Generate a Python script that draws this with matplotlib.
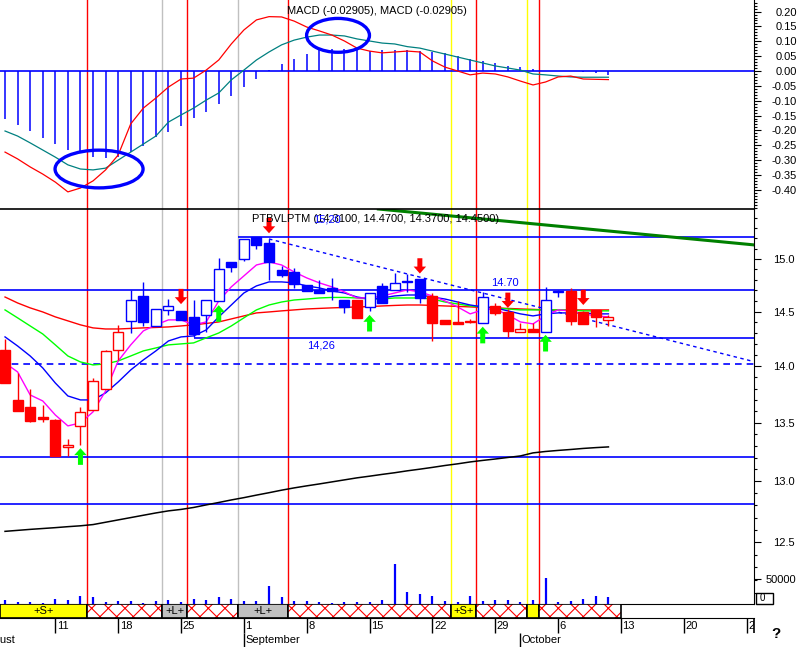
#!/usr/bin/env python3
"""Daily candle chart with MACD panel, moving averages and signal bands."""

import matplotlib
matplotlib.use("Agg")  # headless
import matplotlib.pyplot as plt
from matplotlib.patches import Rectangle, Ellipse
from matplotlib.ticker import FixedLocator, MultipleLocator, FormatStrFormatter, NullFormatter
import numpy as np

plt.rcParams["font.family"] = ["Liberation Sans", "DejaVu Sans"]
plt.rcParams["hatch.color"] = "red"
plt.rcParams["hatch.linewidth"] = 0.8

# One entry per trading day: index 0 = Tue 5 Aug, index 48 = Fri 10 Oct
opens = [14.15, 13.70, 13.64, 13.55, 13.52, 13.29, 13.47, 13.61, 13.80, 14.15,
         14.41, 14.65, 14.37, 14.516, 14.506, 14.448, 14.469, 14.603, 14.971, 15.00,
         15.21, 15.152, 14.894, 14.872, 14.751, 14.704, 14.72, 14.609, 14.609, 14.547,
         14.742, 14.70, 14.782, 14.808, 14.647, 14.42, 14.407, 14.40, 14.392, 14.55,
         14.50, 14.315, 14.339, 14.315, 14.688, 14.697, 14.50, 14.516, 14.42]
highs = [14.25, 13.94, 13.80, 13.65, 13.53, 13.36, 13.635, 13.89, 14.15, 14.38,
         14.70, 14.78, 14.52, 14.616, 14.506, 14.609, 14.609, 15.007, 14.971, 15.19,
         15.21, 15.19, 14.93, 14.911, 14.751, 14.80, 14.815, 14.609, 14.609, 14.673,
         14.767, 14.863, 14.856, 14.808, 14.673, 14.42, 14.60, 14.43, 14.688, 14.578,
         14.52, 14.392, 14.392, 14.729, 14.70, 14.72, 14.51, 14.516, 14.47]
lows = [13.85, 13.60, 13.51, 13.51, 13.21, 13.21, 13.31, 13.61, 13.80, 14.06,
        14.305, 14.37, 14.37, 14.469, 14.423, 14.263, 14.31, 14.603, 14.878, 14.98,
        15.10, 14.80, 14.83, 14.72, 14.697, 14.673, 14.61, 14.485, 14.438, 14.51,
        14.578, 14.70, 14.688, 14.578, 14.232, 14.383, 14.386, 14.39, 14.392, 14.469,
        14.268, 14.315, 14.31, 14.315, 14.64, 14.376, 14.386, 14.361, 14.37]
closes = [13.85, 13.605, 13.515, 13.53, 13.21, 13.31, 13.59, 13.87, 14.14, 14.31,
          14.61, 14.40, 14.52, 14.553, 14.423, 14.293, 14.609, 14.901, 14.926, 15.19,
          15.14, 14.974, 14.847, 14.758, 14.697, 14.673, 14.694, 14.547, 14.438, 14.673,
          14.578, 14.767, 14.785, 14.625, 14.398, 14.383, 14.386, 14.41, 14.641, 14.485,
          14.324, 14.339, 14.315, 14.609, 14.69, 14.416, 14.386, 14.448, 14.45]
candle_colors = ["r"] * 10 + ["b"] * 18 + ["r"] + ["b"] * 5 + ["r"] * 4 + ["b"] + \
                ["r"] * 4 + ["b"] * 2 + ["r"] * 4
volumes = [8000, 3400, 4600, 1400, 10000, 8000, 16000, 14600, 4600, 6600,
           6600, 2600, 6600, 8000, 4000, 10000, 8600, 14600, 10000, 6600,
           6600, 36600, 14600, 6000, 6000, 4000, 2000, 4000, 4000, 4000,
           8000, 80000, 24600, 20000, 16600, 6000, 4000, 16600, 6000, 8000,
           8000, 4000, 8000, 52600, 4000, 6000, 10000, 16000, 14000]

# Moving averages
ma_fast = [14.029, 13.948, 13.743, 13.690, 13.567, 13.472, 13.498, 13.594, 13.778, 14.047,
           14.193, 14.321, 14.377, 14.423, 14.423, 14.377, 14.404, 14.600, 14.733, 14.837,
           14.942, 14.971, 14.942, 14.875, 14.818, 14.771, 14.733, 14.685, 14.628, 14.628,
           14.647, 14.675, 14.704, 14.685, 14.647, 14.600, 14.544, 14.479, 14.516, 14.525,
           14.469, 14.404, 14.386, 14.460, 14.516, 14.507, 14.479, 14.460, 14.451]
ma_10 = [14.266, 14.183, 14.092, 13.984, 13.849, 13.734, 13.699, 13.699, 13.761, 13.858,
         13.966, 14.056, 14.138, 14.229, 14.266, 14.275, 14.330, 14.451, 14.562, 14.675,
         14.742, 14.780, 14.780, 14.771, 14.742, 14.723, 14.694, 14.675, 14.637, 14.618,
         14.628, 14.647, 14.656, 14.656, 14.637, 14.618, 14.590, 14.562, 14.544, 14.535,
         14.507, 14.479, 14.460, 14.479, 14.488, 14.488, 14.488, 14.479, 14.479]
ma_20 = [14.516, 14.442, 14.367, 14.293, 14.193, 14.092, 14.038, 14.011, 14.020, 14.047,
         14.092, 14.138, 14.165, 14.193, 14.202, 14.211, 14.257, 14.302, 14.367, 14.442,
         14.516, 14.562, 14.590, 14.609, 14.618, 14.628, 14.633, 14.633, 14.628, 14.618,
         14.618, 14.628, 14.628, 14.628, 14.618, 14.590, 14.572, 14.553, 14.544, 14.535,
         14.525, 14.516, 14.516, 14.516, 14.516, 14.516, 14.507, 14.507, 14.507]
ma_50 = [14.637, 14.581, 14.535, 14.497, 14.451, 14.414, 14.377, 14.349, 14.339, 14.339,
         14.344, 14.349, 14.353, 14.358, 14.367, 14.377, 14.390, 14.404, 14.432, 14.460,
         14.488, 14.497, 14.507, 14.516, 14.525, 14.530, 14.535, 14.539, 14.544, 14.547,
         14.553, 14.558, 14.562, 14.562, 14.558, 14.553, 14.549, 14.544, 14.539, 14.535,
         14.530, 14.525, 14.521, 14.516, 14.516, 14.516, 14.516, 14.516, 14.516]
ma_200 = [12.588, 12.596, 12.604, 12.611, 12.618, 12.626, 12.633, 12.643, 12.662, 12.681,
          12.700, 12.719, 12.738, 12.755, 12.767, 12.783, 12.804, 12.824, 12.845, 12.864,
          12.885, 12.905, 12.926, 12.945, 12.962, 12.978, 12.995, 13.012, 13.029, 13.043,
          13.058, 13.072, 13.088, 13.102, 13.117, 13.133, 13.147, 13.163, 13.176, 13.188,
          13.201, 13.214, 13.240, 13.252, 13.261, 13.269, 13.278, 13.285, 13.291]

# MACD panel
macd_line = [-0.273, -0.296, -0.323, -0.347, -0.374, -0.407, -0.394, -0.370, -0.333, -0.283,
             -0.178, -0.125, -0.091, -0.054, -0.027, -0.024, 0.003, 0.037, 0.091, 0.138,
             0.172, 0.183, 0.182, 0.168, 0.148, 0.135, 0.121, 0.101, 0.077, 0.067,
             0.061, 0.064, 0.067, 0.064, 0.034, 0.013, 0.000, -0.013, -0.007, -0.010,
             -0.020, -0.034, -0.047, -0.037, -0.020, -0.017, -0.027, -0.028, -0.029]
macd_signal = [-0.202, -0.219, -0.242, -0.266, -0.290, -0.316, -0.330, -0.333, -0.327, -0.300,
               -0.273, -0.246, -0.219, -0.172, -0.148, -0.125, -0.098, -0.074, -0.030, 0.003,
               0.037, 0.064, 0.088, 0.104, 0.114, 0.121, 0.121, 0.118, 0.108, 0.101,
               0.094, 0.091, 0.082, 0.077, 0.067, 0.057, 0.047, 0.037, 0.027, 0.017,
               0.010, 0.003, -0.010, -0.013, -0.017, -0.020, -0.021, -0.021, -0.021]
macd_hist = [-0.163, -0.182, -0.201, -0.225, -0.246, -0.266, -0.275, -0.291, -0.294, -0.289,
             -0.272, -0.251, -0.221, -0.204, -0.185, -0.159, -0.137, -0.112, -0.084, -0.055,
             -0.027, 0.002, 0.023, 0.039, 0.057, 0.071, 0.073, 0.073, 0.071, 0.068,
             0.071, 0.071, 0.071, 0.067, 0.065, 0.060, 0.050, 0.040, 0.034, 0.028,
             0.018, 0.014, 0.006, 0.001, 0.000, -0.001, -0.003, -0.008, -0.013]
macd_ticks = [-0.40, -0.35, -0.30, -0.25, -0.20, -0.15, -0.10, -0.05,
              0.00, 0.05, 0.10, 0.15, 0.20]

# Buy / sell arrows (day index, price at arrow tip)
sell_idx = [14, 21, 33, 40, 46]
sell_price = [14.57, 15.25, 14.86, 14.535, 14.562]
buy_idx = [6, 17, 29, 38, 43]
buy_price = [13.28, 14.56, 14.47, 14.36, 14.285]

# Drawn support / resistance lines
level_values = [15.21, 14.70, 14.26, 13.205, 12.81]
level_start = [18.5, -0.4, 15.0, -0.4, -0.4]
dashed_level = 14.02
green_trend_x = [29.7, 59.6]
green_trend_y = [15.49, 15.136]
blue_trend_x = [21.0, 59.4]
blue_trend_y = [15.194, 14.046]

# Vertical marker lines between days
vline_pos = [6.5, 12.5, 14.5, 18.5, 22.5, 35.5, 37.5, 41.5, 42.5]
vline_colors = ["#ff0000", "#c0c0c0", "#ff0000", "#c0c0c0", "#ff0000",
                "#ffff00", "#ff0000", "#ffff00", "#ff0000"]

# Signal band strip under the chart
band_start = [-0.4, 6.5, 12.5, 14.5, 18.5, 22.5, 35.5, 37.5, 41.5, 42.5]
band_end = [6.5, 12.5, 14.5, 18.5, 22.5, 35.5, 37.5, 41.5, 42.5, 49.0]
band_kind = ["S", "x", "L", "x", "L", "x", "S", "x", "S", "x"]
band_text = ["+S+", "", "+L+", "", "+L+", "", "+S+", "", "", ""]

# Date axis
day_idx = [4, 9, 14, 19, 24, 29, 34, 39, 44, 49, 54, 59]
day_labels = ["11", "18", "25", "1", "8", "15", "22", "29", "6", "13", "20", "27"]
month_idx = [-2, 19, 41]
month_labels = ["August", "September", "October"]

BLUE = "#0000ff"
RED = "#ff0000"
XLIM = (-0.4, 59.58)
W, H = 801, 647


def box(x0, y0, x1, y1):
    """Pixel box (top-left origin) -> figure fraction rect."""
    return [x0 / W, 1 - y1 / H, (x1 - x0) / W, (y1 - y0) / H]


fig = plt.figure(figsize=(W / 100, H / 100), dpi=100)
ax_price = fig.add_axes(box(0, 209, 754, 604))
ax_vol = ax_price.twinx()
ax_macd = fig.add_axes(box(0, 0, 754, 209))
ax_band = fig.add_axes(box(0, 604, 754, 618))
ax_date = fig.add_axes(box(0, 618, 754, 647))

x = np.arange(len(opens))

# ---- MACD panel ----
ax_macd.patch.set_alpha(0)
for pos, col in zip(vline_pos, vline_colors):
    ax_macd.axvline(pos, color=col, lw=1, zorder=1)
ax_macd.axhline(0, color=BLUE, lw=1.2, zorder=2)
ax_macd.vlines(x, 0, macd_hist, color=BLUE, lw=1.1, zorder=2)
ax_macd.plot(x, macd_signal, color="#008080", lw=0.9, zorder=3)
ax_macd.plot(x, macd_line, color=RED, lw=0.9, zorder=3)
ax_macd.add_patch(Ellipse((7.48, -0.33), 7.0, 0.127, fill=False, edgecolor=BLUE, lw=2.4, zorder=4))
ax_macd.add_patch(Ellipse((26.49, 0.120), 5.0, 0.114, fill=False, edgecolor=BLUE, lw=2.4, zorder=4))
ax_macd.set_xlim(*XLIM)
ax_macd.set_ylim(-0.4646, 0.239)
ax_macd.yaxis.tick_right()
ax_macd.yaxis.set_major_locator(FixedLocator(macd_ticks))
ax_macd.yaxis.set_minor_locator(MultipleLocator(0.01))
ax_macd.yaxis.set_major_formatter(FormatStrFormatter("%.2f"))
ax_macd.tick_params(axis="y", which="major", direction="out", length=5, width=0.8,
                    labelsize=8, pad=26)
ax_macd.tick_params(axis="y", which="minor", direction="out", length=2.5, width=0.8)
for lab in ax_macd.get_yticklabels():
    lab.set_horizontalalignment("right")
ax_macd.set_xticks([])
ax_macd.spines[["left", "top"]].set_visible(False)
ax_macd.spines["bottom"].set_linewidth(1.2)

# ---- price panel ----
for pos, col in zip(vline_pos, vline_colors):
    ax_price.axvline(pos, color=col, lw=1, zorder=1)
for val, start in zip(level_values, level_start):
    ax_price.hlines(val, start, XLIM[1], color=BLUE, lw=1.2, zorder=2)
ax_price.axhline(dashed_level, color=BLUE, lw=1.2, ls=(0, (4, 3)), zorder=2)
ax_price.plot(green_trend_x, green_trend_y, color="#008000", lw=2.2, zorder=2)
ax_price.plot(blue_trend_x, blue_trend_y, color=BLUE, lw=1, ls=(0, (2.5, 2.5)), zorder=2)

ax_price.plot(x, ma_200, color="black", lw=1.1, zorder=3)
ax_price.plot(x, ma_50, color=RED, lw=1, zorder=3)
ax_price.plot(x, ma_20, color="#00ff00", lw=1, zorder=3)
ax_price.plot(x, ma_10, color=BLUE, lw=1, zorder=3)
ax_price.plot(x, ma_fast, color="#ff00ff", lw=1, zorder=3)

colors = {"r": RED, "b": BLUE}
for i in x:
    o, h, l, c = opens[i], highs[i], lows[i], closes[i]
    col = colors[candle_colors[i]]
    ax_price.vlines(i, l, h, color=col, lw=1, zorder=4)
    lo, hi = min(o, c), max(o, c)
    face = col if c < o else "white"
    ax_price.bar(i, hi - lo, bottom=lo, width=0.8, facecolor=face, edgecolor=col,
                 linewidth=1, zorder=5)

arrow_kw = dict(width=3.6, headwidth=9, headlength=5, shrink=0)
for i, p in zip(sell_idx, sell_price):
    ax_price.annotate("", xy=(i, p), xytext=(0, 11), textcoords="offset points",
                      arrowprops=dict(facecolor=RED, edgecolor="none", **arrow_kw), zorder=6)
for i, p in zip(buy_idx, buy_price):
    ax_price.annotate("", xy=(i, p), xytext=(0, -12), textcoords="offset points",
                      arrowprops=dict(facecolor="#00ff00", edgecolor="none", **arrow_kw), zorder=6)

ax_price.set_yscale("log")
ax_price.set_xlim(*XLIM)
ax_price.set_ylim(12.013, 15.49)
ax_price.yaxis.tick_right()
ax_price.yaxis.set_major_locator(FixedLocator([12.5, 13.0, 13.5, 14.0, 14.5, 15.0]))
ax_price.yaxis.set_minor_locator(MultipleLocator(0.1))
ax_price.yaxis.set_major_formatter(FormatStrFormatter("%.1f"))
ax_price.yaxis.set_minor_formatter(NullFormatter())
ax_price.tick_params(axis="y", which="major", direction="out", length=5, width=0.8,
                     labelsize=8, pad=9)
ax_price.tick_params(axis="y", which="minor", direction="out", length=2.5, width=0.8)
ax_price.set_xticks([])
ax_price.spines[["left", "top"]].set_visible(False)

# volume on its own scale, bars rise from the panel bottom
ax_vol.vlines(x, 0, volumes, color=BLUE, lw=1.6)
ax_vol.set_ylim(0, 790000)
ax_vol.set_yticks([50000])
ax_vol.set_yticklabels(["50000"])
ax_vol.tick_params(axis="y", direction="out", length=5, width=0.8, labelsize=8, pad=3)
for s in ax_vol.spines.values():
    s.set_visible(False)

# ---- band strip ----
fills = {"S": "#ffff00", "L": "#c0c0c0"}
for s, e, kind, txt in zip(band_start, band_end, band_kind, band_text):
    if kind == "x":
        ax_band.add_patch(Rectangle((s, 0), e - s, 1, facecolor="white", edgecolor=RED,
                                    hatch="xx", lw=0))
    else:
        ax_band.add_patch(Rectangle((s, 0), e - s, 1, facecolor=fills[kind], lw=0))
    ax_band.add_patch(Rectangle((s, 0), e - s, 1, fill=False, edgecolor="black", lw=1.2))
    if txt:
        ax_band.text((s + e) / 2, 0.5, txt, ha="center", va="center", fontsize=8)
ax_band.set_xlim(*XLIM)
ax_band.set_ylim(0, 1)
ax_band.axis("off")

# ---- date axis ----
ax_date.set_xlim(*XLIM)
ax_date.set_ylim(0, 1)
ax_date.vlines(day_idx, 0.49, 1, color="black", lw=1)
for i, lab in zip(day_idx, day_labels):
    ax_date.text(i + 0.12, 0.74, lab, ha="left", va="center", fontsize=8, clip_on=True)
ax_date.vlines(month_idx, 0, 0.49, color="black", lw=1)
for i, lab in zip(month_idx, month_labels):
    ax_date.text(i + 0.12, 0.24, lab, ha="left", va="center", fontsize=8, clip_on=True)
ax_date.vlines(XLIM[1], 0.49, 1, color="black", lw=1.2, clip_on=False)
ax_date.set_xticks([])
ax_date.set_yticks([])
ax_date.spines[["left", "right", "bottom"]].set_visible(False)

# ---- text overlays ----
fig.text(287 / W, 1 - 11 / H, "MACD (-0.02905), MACD (-0.02905)", fontsize=8, va="center")
fig.text(252 / W, 1 - 219 / H, "PTBVLPTM (14.3100, 14.4700, 14.3700, 14.4500)",
         fontsize=8, va="center")
fig.text(313 / W, 1 - 219 / H, "15,20", fontsize=8, va="center", color=BLUE)
fig.text(491 / W, 1 - 283 / H, "14.70", fontsize=8, va="center", color=BLUE)
fig.text(307 / W, 1 - 345 / H, "14,26", fontsize=8, va="center", color=BLUE)
fig.patches.append(Rectangle((756 / W, 1 - 604 / H), 17 / W, 11 / H, fill=False,
                             edgecolor="black", lw=1, transform=fig.transFigure, figure=fig))
fig.text(760 / W, 1 - 598 / H, "0", fontsize=7, va="center")
fig.text(771 / W, 1 - 634 / H, "?", fontsize=11, fontweight="bold", va="center")

plt.savefig("out.png", dpi=100)
print("Saved: out.png")
